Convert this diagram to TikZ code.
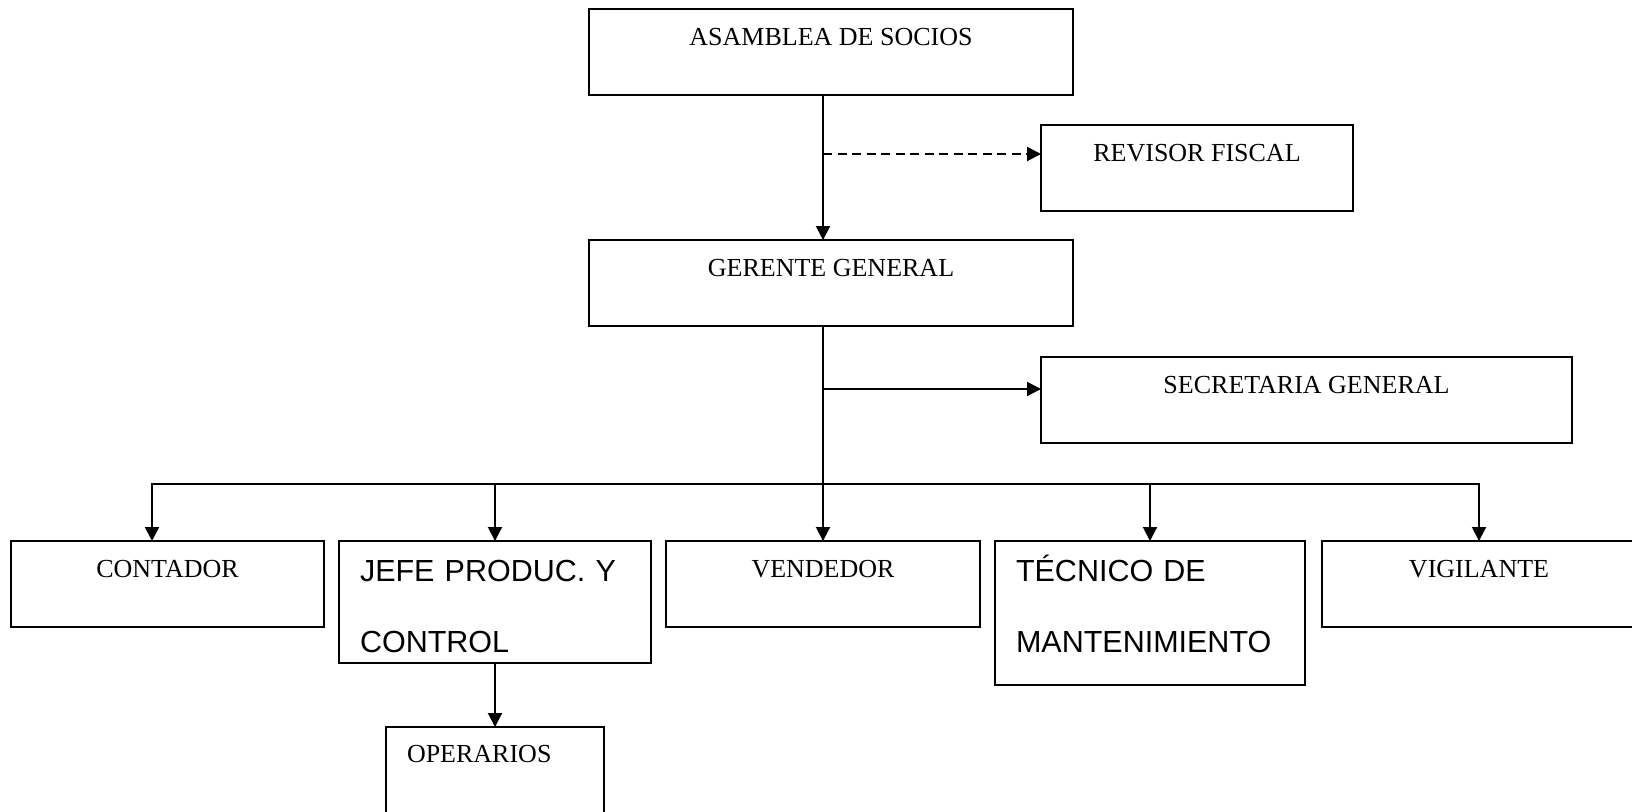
\documentclass[tikz,border=0pt]{standalone}
\usepackage{fontspec}
\setmainfont{Liberation Serif}
\newfontfamily\arialfont{Liberation Sans}
\usetikzlibrary{arrows.meta,calc}
\begin{document}
\begin{tikzpicture}[x=1pt,y=-1pt,
  >={Triangle[length=14pt,width=14pt]},
  orgbox/.style={draw, line width=2pt, inner sep=0pt, outer sep=0pt,
    anchor=north west, font=\fontsize{26}{31}\selectfont},
  onebox/.style={orgbox, text height=36pt, text depth=50pt},
  twobox/.style={orgbox, font=\arialfont\fontsize{30.5}{71}\selectfont,
    align=left, inner xsep=21pt, text height=40pt},
  link/.style={line width=2pt, ->},
  dashlink/.style={link, dash pattern=on 9pt off 5.5pt},
]
\useasboundingbox (0,0) rectangle (1632,811);
\fill[white] (0,0) rectangle (1632,811);

% boxes of the chart
\node[onebox, minimum width=484pt] (asamblea) at (589,9) {ASAMBLEA DE SOCIOS};
\node[onebox, minimum width=312pt] (revisor) at (1041,125) {REVISOR FISCAL};
\node[onebox, minimum width=484pt] (gerente) at (589,240) {GERENTE GENERAL};
\node[onebox, minimum width=531pt] (secretaria) at (1041,357) {SECRETARIA GENERAL};
\node[onebox, minimum width=313pt] (contador) at (11,541) {CONTADOR};
\node[twobox, text width=270pt, text depth=82pt] (jefe) at (339,541) {JEFE PRODUC. Y\\CONTROL};
\node[onebox, minimum width=314pt] (vendedor) at (666,541) {VENDEDOR};
\node[twobox, text width=268pt, text depth=104pt] (tecnico) at (995,541) {TÉCNICO DE\\MANTENIMIENTO};
\node[onebox, minimum width=314pt] (vigilante) at (1322,541) {VIGILANTE};
\node[orgbox, align=left, inner xsep=21pt, text width=176pt,
  text height=35pt, text depth=65pt] (operarios) at (386,727) {OPERARIOS};

% reference points of the connectors
\coordinate (trunk) at (823,0);
\coordinate (split) at (0,484);
\coordinate (contdrop) at (152,0);
\coordinate (revisorin) at ($(revisor.north west)+(0,29)$);
\coordinate (secin) at ($(secretaria.north west)+(0,32)$);

% connectors
\draw[link] (asamblea.south -| trunk) -- (gerente.north -| trunk);
\draw[dashlink] (revisorin -| trunk) -- (revisorin);
\draw[link] (gerente.south -| trunk) -- (vendedor.north -| trunk);
\draw[link] (secin -| trunk) -- (secin);
\draw[line width=2pt, <->]
  (contador.north -| contdrop) -- (split -| contdrop)
  -- (split -| vigilante.north) -- (vigilante.north);
\draw[link] (split -| jefe.north) -- (jefe.north);
\draw[link] (split -| tecnico.north) -- (tecnico.north);
\draw[link] (jefe.south) -- (operarios.north);
\end{tikzpicture}
\end{document}
